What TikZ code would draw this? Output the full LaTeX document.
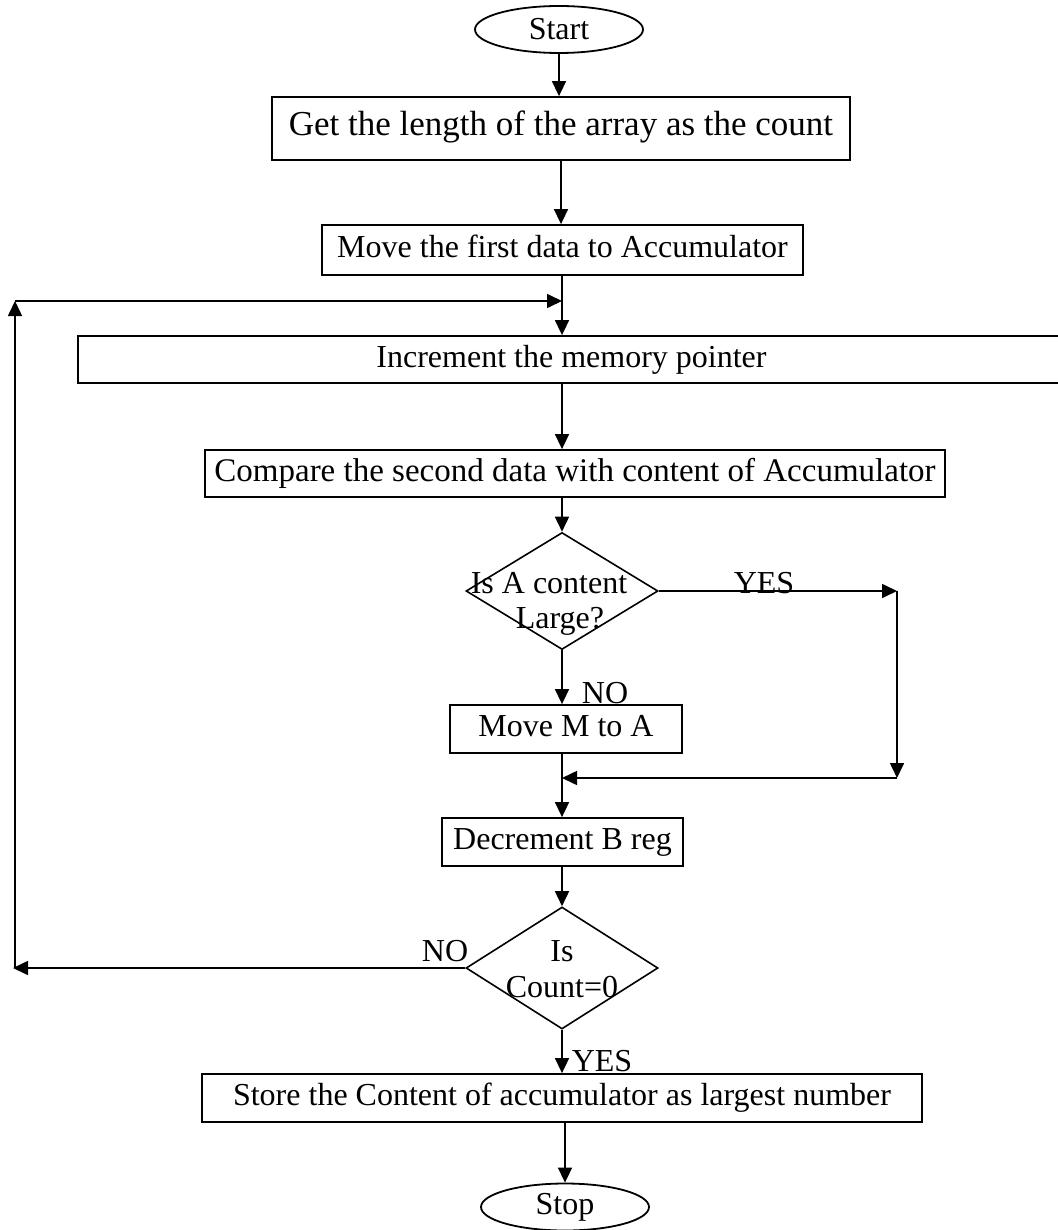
\documentclass[tikz,border=0pt]{standalone}
\usepackage{fontspec}
\setmainfont{Liberation Serif}
\usetikzlibrary{shapes.geometric,arrows.meta}
\begin{document}
\begin{tikzpicture}[x=1pt,y=-1pt,
  every node/.style={font=\fontsize{32pt}{36pt}\selectfont},
  procbox/.style={draw,line width=1.8pt,inner sep=0pt,text height=22pt,text depth=7pt},
  term/.style={draw,ellipse,line width=1.8pt,inner sep=0pt,minimum width=168pt,minimum height=47pt},
  decision/.style={draw,diamond,line width=1.6pt,inner sep=0pt,minimum width=192pt},
  lbl/.style={anchor=base,inner sep=0pt},
  arr/.style={line width=1.6pt,-{Triangle[length=15pt,width=14pt]}}]
\useasboundingbox (0,0) rectangle (1057,1230);

% terminals
\node[term] (start) at (559,29.5) {Start};
\node[term] (stop) at (565,1207) {Stop};

% process boxes
\node[procbox,minimum width=578pt,minimum height=63pt,font=\fontsize{35pt}{40pt}\selectfont] (b1) at (561,128.5) {Get the length of the array as the count};
\node[procbox,minimum width=481pt,minimum height=50pt] (b2) at (562.5,250) {Move the first data to Accumulator};
\node[procbox,minimum width=987pt,minimum height=47pt] (b3) at (571.5,359.5) {Increment the memory pointer};
\node[procbox,minimum width=740pt,minimum height=47pt,font=\fontsize{33pt}{37pt}\selectfont] (b4) at (575,473.5) {Compare the second data with content of Accumulator};
\node[procbox,minimum width=232pt,minimum height=48pt] (b5) at (566,729) {Move M to A};
\node[procbox,minimum width=241pt,minimum height=48pt] (b6) at (562.5,842) {Decrement B reg};
\node[procbox,minimum width=720pt,minimum height=48pt] (b7) at (562,1098) {Store the Content of accumulator as largest number};

% decisions
\node[decision,minimum height=117pt] (d1) at (562,591) {};
\node[lbl] (d1a) at (549,593) {Is A content};
\node[lbl] (d1b) at (560,628) {Large?};
\node[decision,minimum height=122pt] (d2) at (562,968) {};
\node[lbl] (d2a) at (562,961) {Is};
\node[lbl] (d2b) at (562,997) {Count=0};

% branch labels
\node[lbl] (yes1) at (764,593) {YES};
\node[lbl] (no1) at (605,703) {NO};
\node[lbl] (no2) at (445,961) {NO};
\node[lbl] (yes2) at (602,1071) {YES};

% corner points of the side paths
\coordinate (yr) at (897,591);
\coordinate (yb) at (897,778);
\coordinate (yj) at (562,778);
\coordinate (lb) at (13,968);
\coordinate (lt) at (15,301);
\coordinate (lj) at (562,301);

% main flow
\draw[arr] (start.south) -- (start.south |- b1.north);
\draw[arr] (b1.south) -- (b1.south |- b2.north);
\draw[arr] (lj |- b2.south) -- (lj |- b3.north);
\draw[arr] (lj |- b3.south) -- (lj |- b4.north);
\draw[arr] (d1.north |- b4.south) -- (d1.north);
\draw[arr] (d1.south) -- (d1.south |- b5.north);
\draw[arr] (yj |- b5.south) -- (yj |- b6.north);
\draw[arr] (d2.north |- b6.south) -- (d2.north);
\draw[arr] (d2.south) -- (d2.south |- b7.north);
\draw[arr] (stop.north |- b7.south) -- (stop.north);

% YES branch of the first decision
\draw[arr] (d1.east) -- (yr);
\draw[arr] (yr) -- (yb);
\draw[arr] (yb) -- (yj);

% NO branch of the second decision: back to the loop
\draw[arr] (d2.west) -- (lb);
\draw[arr] (lb -| lt) -- (lt);
\draw[arr] (lt) -- (lj);
\end{tikzpicture}
\end{document}
